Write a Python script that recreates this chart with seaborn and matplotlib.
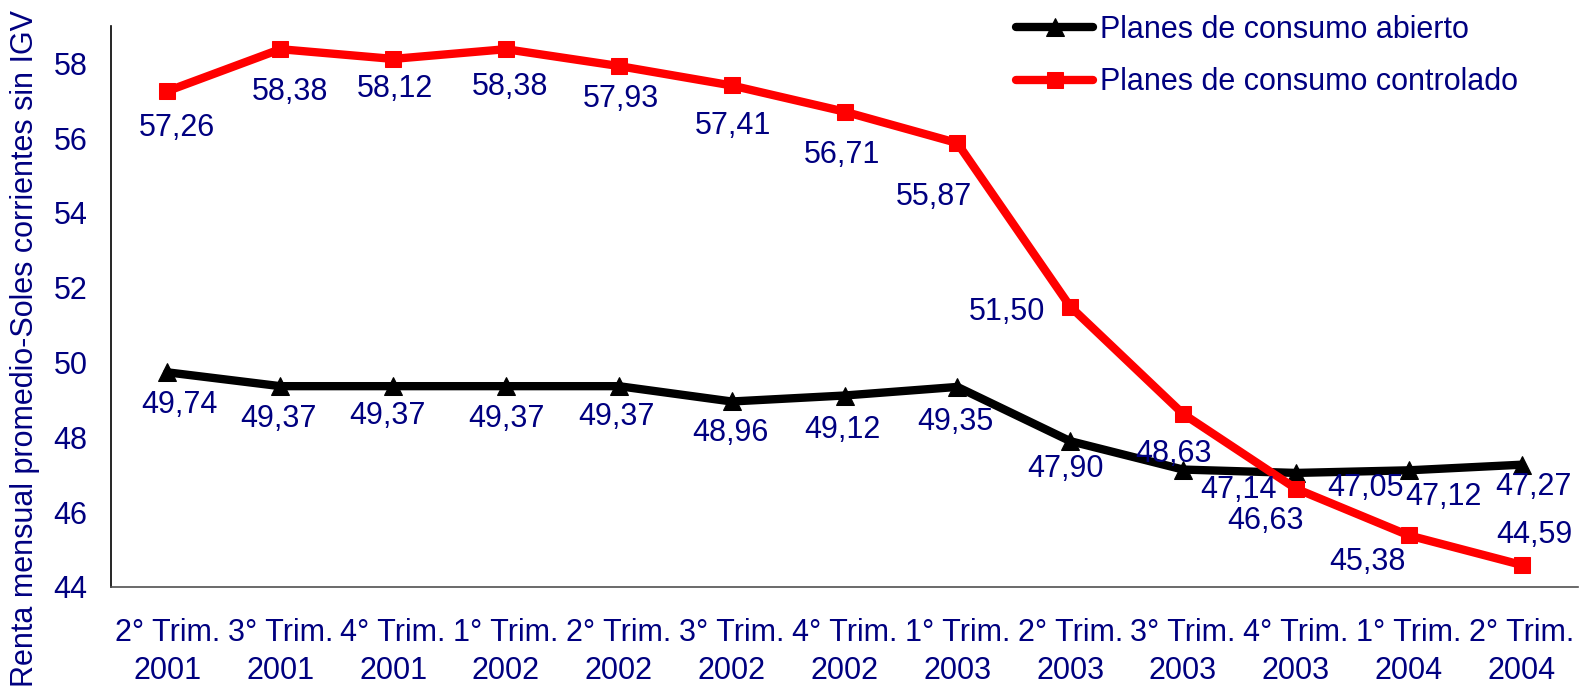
import pandas as pd
import matplotlib
matplotlib.use("Agg")
import matplotlib.pyplot as plt
import seaborn as sns

# Datos
trimestres = ["2° Trim.\n2001", "3° Trim.\n2001", "4° Trim.\n2001", "1° Trim.\n2002",
              "2° Trim.\n2002", "3° Trim.\n2002", "4° Trim.\n2002", "1° Trim.\n2003",
              "2° Trim.\n2003", "3° Trim.\n2003", "4° Trim.\n2003", "1° Trim.\n2004",
              "2° Trim.\n2004"]
abierto = [49.74, 49.37, 49.37, 49.37, 49.37, 48.96, 49.12, 49.35, 47.90, 47.14, 47.05, 47.12, 47.27]
controlado = [57.26, 58.38, 58.12, 58.38, 57.93, 57.41, 56.71, 55.87, 51.50, 48.63, 46.63, 45.38, 44.59]

# desplazamiento de las etiquetas (pixeles)
off_abierto = [(12, -33), (-2, -33), (-6, -30), (0, -33), (-2, -31), (-1, -32), (-2, -34),
               (-2, -35), (-5, -28), (55, -20), (70, -15), (35, -27), (12, -22)]
off_controlado = [(10, -37), (10, -43), (2, -30), (4, -38), (2, -33), (1, -41), (-2, -43),
                  (-23, -54), (-63, -6), (-10, -40), (-30, -32), (-41, -27), (13, 30)]

df = pd.DataFrame({"pos": range(len(trimestres)), "abierto": abierto, "controlado": controlado})

sns.set_style("white")
plt.rcParams["font.family"] = ["Liberation Sans", "DejaVu Sans"]
navy = "#000080"
fs = 22

fig = plt.figure(figsize=(15.8, 6.88), dpi=100)
ax = fig.add_axes([111 / 1580, 101 / 688, 1467 / 1580, 561 / 688])

sns.lineplot(data=df, x="pos", y="abierto", ax=ax, color="black", linewidth=6,
             marker="^", markersize=13, markeredgecolor="black",
             label="Planes de consumo abierto", solid_capstyle="round")
sns.lineplot(data=df, x="pos", y="controlado", ax=ax, color="#FF0000", linewidth=6,
             marker="s", markersize=12, markeredgecolor="#FF0000",
             label="Planes de consumo controlado", solid_capstyle="round")

# etiquetas de datos
for serie, offs in [(abierto, off_abierto), (controlado, off_controlado)]:
    for i, v in enumerate(serie):
        ax.annotate(f"{v:.2f}".replace(".", ","), (i, v), xytext=offs[i],
                    textcoords="offset pixels", ha="center", va="center",
                    fontsize=fs, color=navy)

ax.set_xlim(-0.5, len(trimestres) - 0.5)
ax.set_ylim(44, 59)
ax.set_yticks(range(44, 59, 2))
ax.set_xticks(range(len(trimestres)))
ax.set_xticklabels(trimestres, linespacing=1.35)
ax.set_xticks([i - 0.5 for i in range(len(trimestres))], minor=True)
ax.tick_params(axis="x", which="major", length=0, pad=22, labelsize=fs, labelcolor=navy)
ax.tick_params(axis="x", which="minor", length=6, width=1, color="#404040", direction="out")
ax.tick_params(axis="y", length=6, width=1, color="#404040", direction="out", pad=11,
               labelsize=fs, labelcolor=navy)
ax.set_xlabel("")
ax.set_ylabel("")

for s in ["top", "right"]:
    ax.spines[s].set_visible(False)
ax.spines["left"].set_color("black")
ax.spines["left"].set_linewidth(1.2)
ax.spines["bottom"].set_color("#505050")
ax.spines["bottom"].set_linewidth(1.2)

fig.text(25 / 1580, 0.002, "Renta mensual promedio-Soles corrientes sin IGV", rotation=90,
         ha="center", va="bottom", fontsize=fs, color=navy)

ax.legend(loc="upper left", bbox_to_anchor=(995 / 1580, 1.01), bbox_transform=fig.transFigure,
          frameon=False, fontsize=fs, labelcolor=navy, handlelength=2.5,
          handletextpad=0.25, labelspacing=0.75, borderaxespad=0.3)

fig.savefig("out.png", dpi=100)
